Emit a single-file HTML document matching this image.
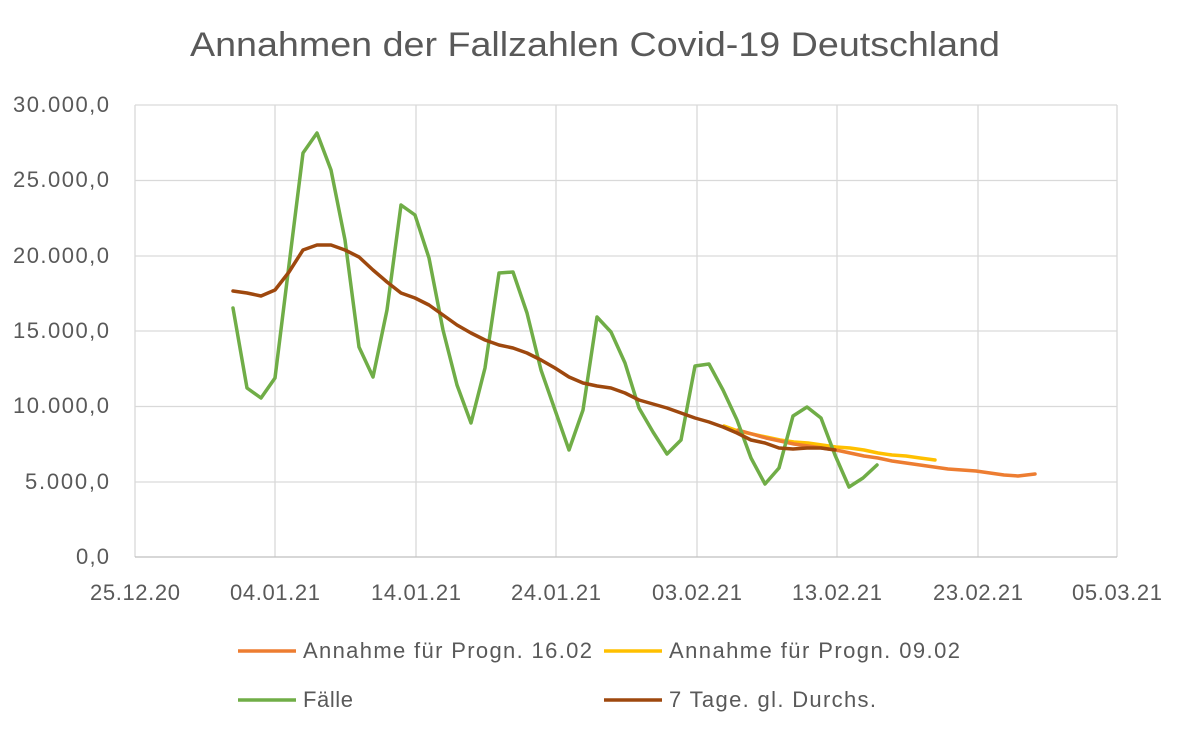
<!DOCTYPE html>
<html><head><meta charset="utf-8"><style>
html,body{margin:0;padding:0;background:#fff;}
svg{display:block;font-family:"Liberation Sans",sans-serif;}
</style></head><body>
<svg width="1192" height="739" viewBox="0 0 1192 739">
<rect width="1192" height="739" fill="#fff"/>
<text x="190" y="56" font-size="34" fill="#595959" textLength="810" lengthAdjust="spacingAndGlyphs">Annahmen der Fallzahlen Covid-19 Deutschland</text>
<g stroke="#d9d9d9" stroke-width="1.3">
<line x1="135" y1="105" x2="1117" y2="105"/>
<line x1="135" y1="180.5" x2="1117" y2="180.5"/>
<line x1="135" y1="256" x2="1117" y2="256"/>
<line x1="135" y1="331" x2="1117" y2="331"/>
<line x1="135" y1="406.5" x2="1117" y2="406.5"/>
<line x1="135" y1="482" x2="1117" y2="482"/>
<line x1="275" y1="105" x2="275" y2="557"/>
<line x1="416" y1="105" x2="416" y2="557"/>
<line x1="556" y1="105" x2="556" y2="557"/>
<line x1="697" y1="105" x2="697" y2="557"/>
<line x1="837" y1="105" x2="837" y2="557"/>
<line x1="978" y1="105" x2="978" y2="557"/>
<line x1="1117" y1="105" x2="1117" y2="557"/>
<line x1="135" y1="105" x2="135" y2="557"/>
</g>
<line x1="135" y1="557" x2="1117" y2="557" stroke="#bfbfbf" stroke-width="1.3"/>
<g font-size="22" fill="#595959" text-anchor="end" lengthAdjust="spacingAndGlyphs">
<text x="109" y="112" textLength="96">30.000,0</text>
<text x="109" y="187" textLength="96">25.000,0</text>
<text x="109" y="263" textLength="96">20.000,0</text>
<text x="109" y="338" textLength="96">15.000,0</text>
<text x="109" y="413" textLength="96">10.000,0</text>
<text x="109" y="489" textLength="84">5.000,0</text>
<text x="109" y="564" textLength="33">0,0</text>
</g>
<g font-size="22" fill="#595959" text-anchor="middle">
<text x="135" y="600" textLength="90">25.12.20</text>
<text x="275" y="600" textLength="90">04.01.21</text>
<text x="416" y="600" textLength="90">14.01.21</text>
<text x="556" y="600" textLength="90">24.01.21</text>
<text x="697" y="600" textLength="90">03.02.21</text>
<text x="837" y="600" textLength="90">13.02.21</text>
<text x="978" y="600" textLength="90">23.02.21</text>
<text x="1117" y="600" textLength="90">05.03.21</text>
</g>
<g fill="none" stroke-width="3.5" stroke-linejoin="round" stroke-linecap="round">
<polyline stroke="#FFC000" points="724,426 738,431 752,434 766,437 780,440 794,442 808,443 822,445 836,447 850,448 864,450 878,453 892,455 906,456 920,458 935,460"/>
<polyline stroke="#ED7D31" points="738,430 752,434 766,438 780,441 794,444 808,446 822,448 836,450 850,453 864,456 878,458 892,461 906,463 920,465 934,467 948,469 962,470 976,471 990,473 1004,475 1018,476 1035,474"/>
<polyline stroke="#70AD47" points="233,308 247,388 261,398 275,378 289,265 303,153 317,133 331,170 345,240 359,347 373,377 387,310 401,205 415,215 429,258 443,330 457,385 471,423 485,368 499,273 513,272 527,313 541,370 555,410 569,450 583,410 597,317 611,332 625,363 639,408 653,432 667,454 681,440 695,366 709,364 723,390 737,420 751,458 765,484 779,468 793,416 807,407 821,418 835,455 849,487 863,478 877,465"/>
<polyline stroke="#9E480E" points="233,291 247,293 261,296 275,290 289,272 303,250 317,245 331,245 345,250 359,257 373,270 387,282 401,293 415,298 429,305 443,315 457,325 471,333 485,340 499,345 513,348 527,353 541,360 555,368 569,377 583,383 597,386 611,388 625,393 639,400 653,404 667,408 681,413 695,418 709,422 723,427 737,433 751,440 765,443 779,448 793,449 807,448 821,448 835,450"/>
</g>
<g stroke-width="3.5">
<line x1="238" y1="651" x2="296" y2="651" stroke="#ED7D31"/>
<line x1="604" y1="651" x2="662" y2="651" stroke="#FFC000"/>
<line x1="238" y1="700" x2="296" y2="700" stroke="#70AD47"/>
<line x1="604" y1="700" x2="662" y2="700" stroke="#9E480E"/>
</g>
<g font-size="22" fill="#595959" lengthAdjust="spacingAndGlyphs">
<text x="303" y="658" textLength="289">Annahme für Progn. 16.02</text>
<text x="669" y="658" textLength="291">Annahme für Progn. 09.02</text>
<text x="303" y="707" textLength="50">Fälle</text>
<text x="669" y="707" textLength="207">7 Tage. gl. Durchs.</text>
</g>
</svg>
</body></html>
